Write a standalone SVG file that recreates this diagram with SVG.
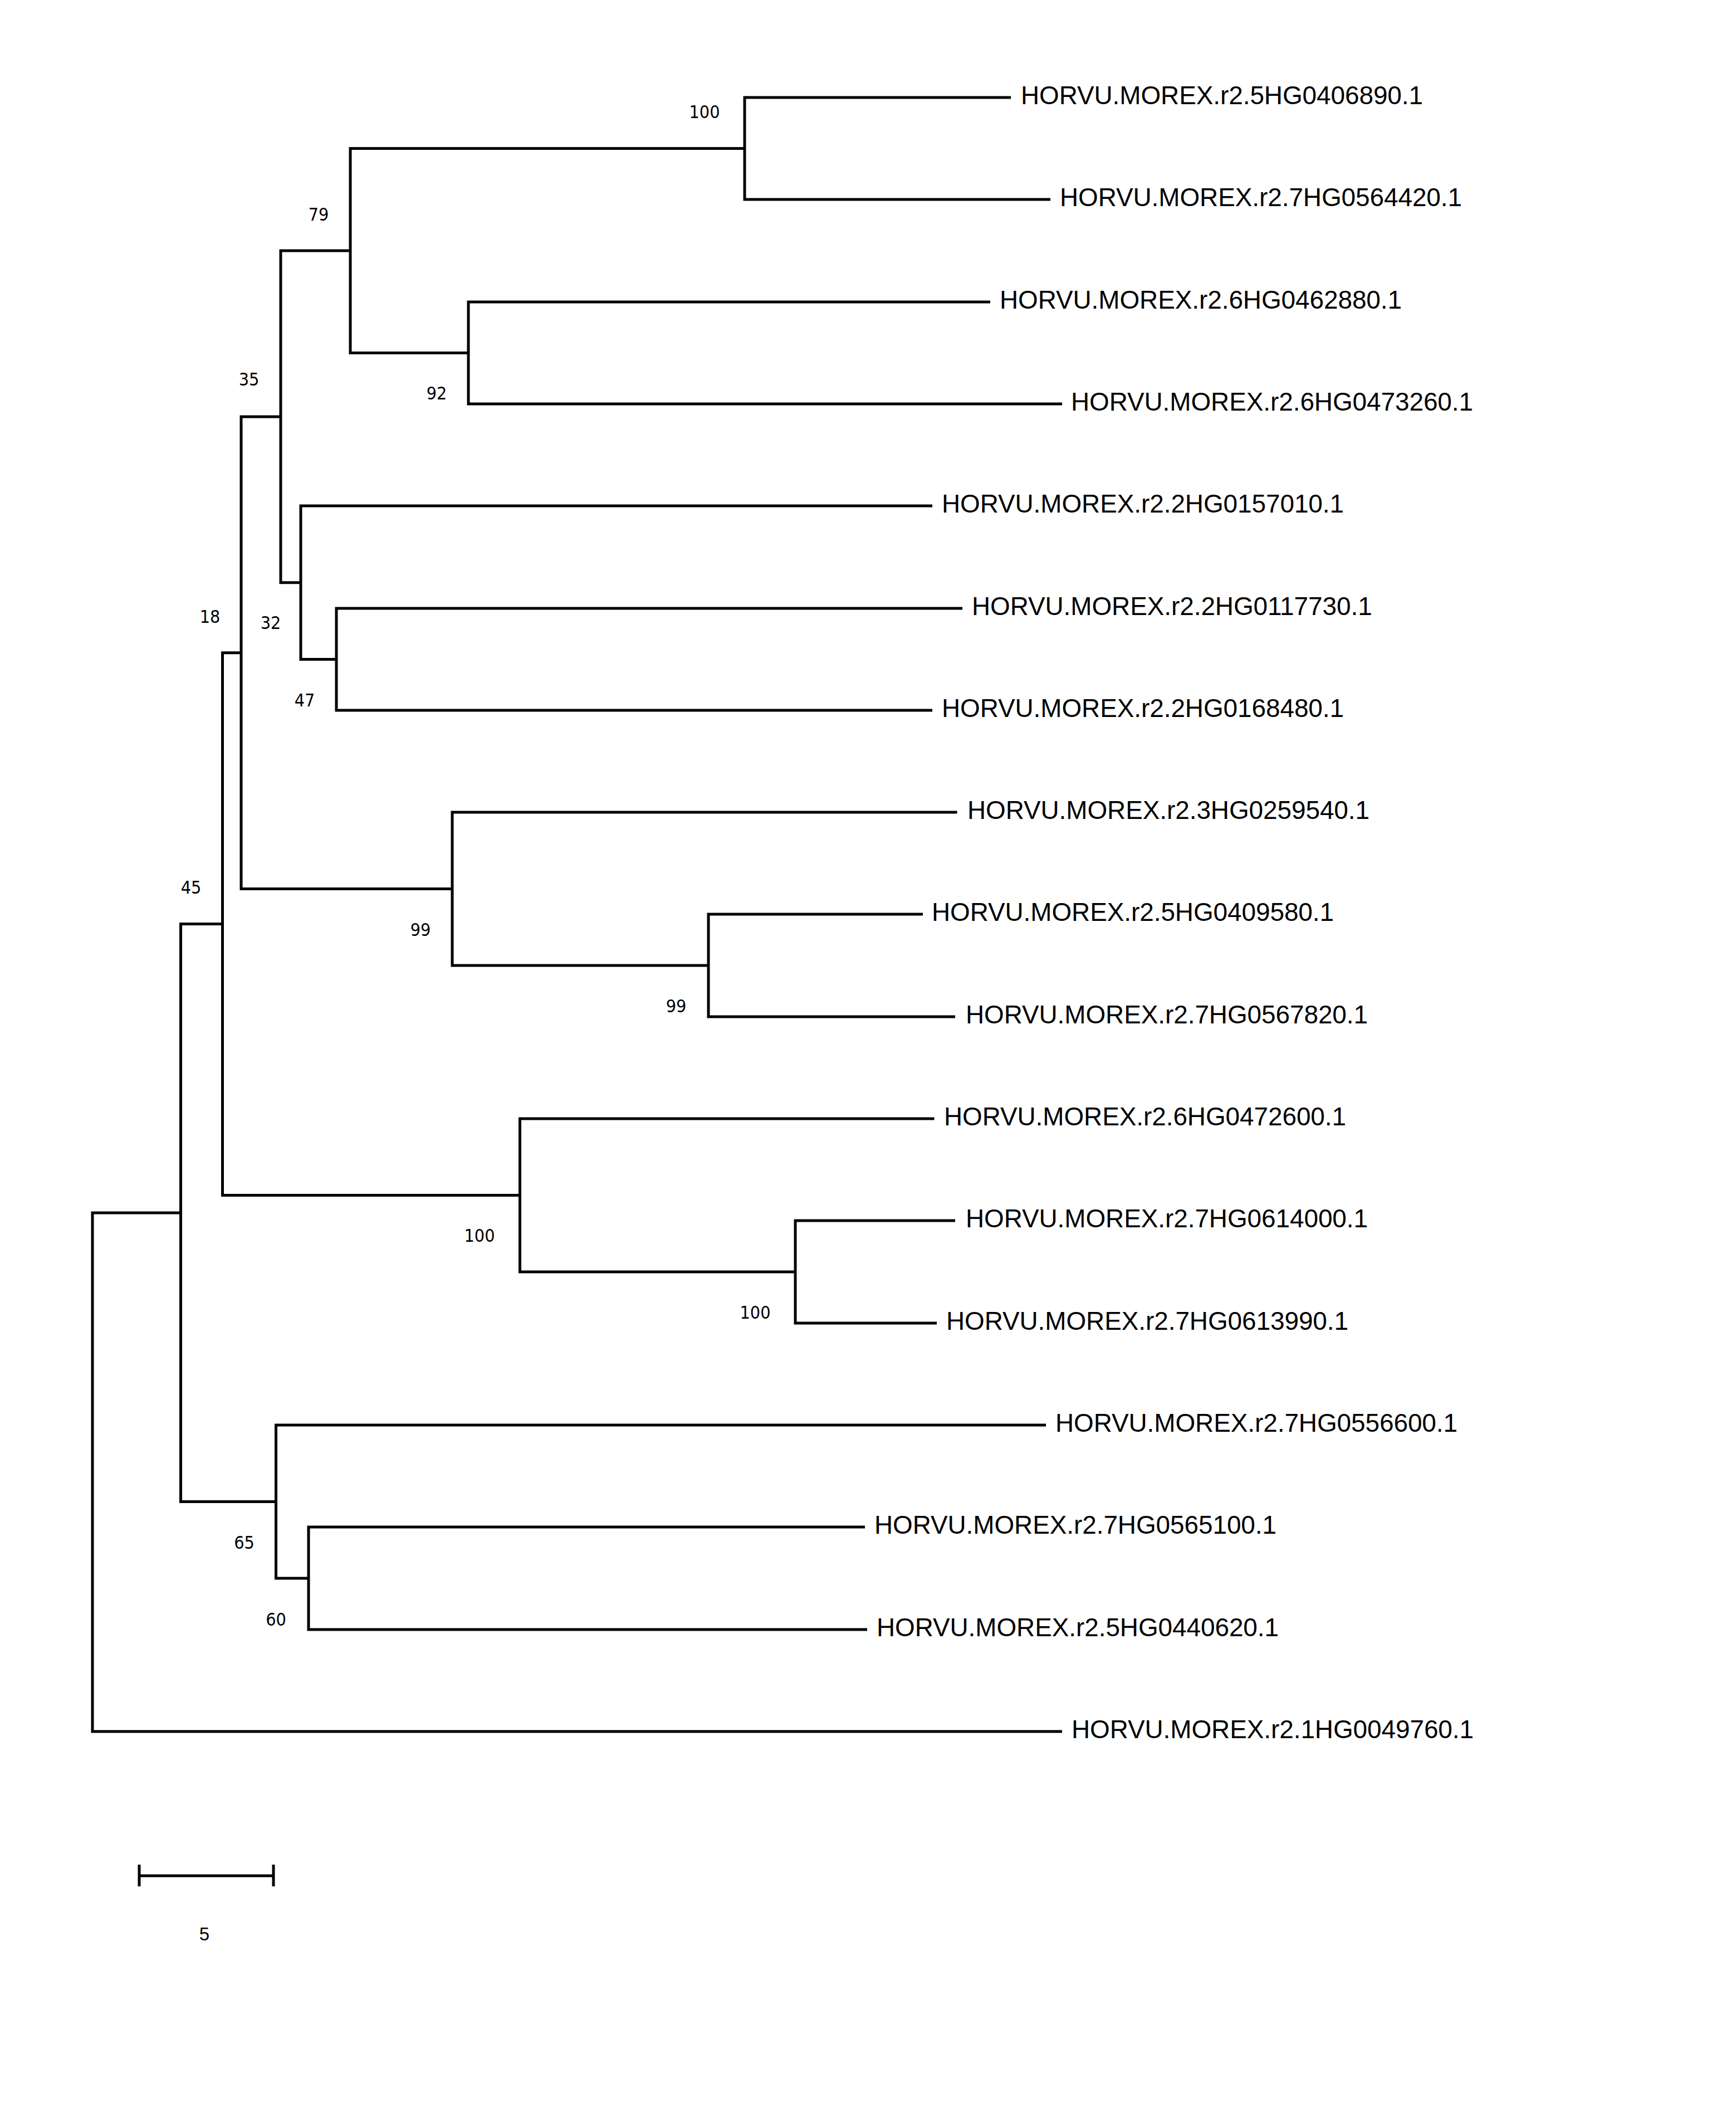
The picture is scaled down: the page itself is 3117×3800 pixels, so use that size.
<svg xmlns="http://www.w3.org/2000/svg" width="3117" height="3800" viewBox="0 0 3117 3800">
<style>
.br{fill:none;stroke:#000;stroke-width:5;stroke-linejoin:miter;stroke-linecap:butt}
.tip{font-family:"Liberation Sans",Arial,sans-serif;font-size:45.8px;fill:#000}
.bs{font-family:"DejaVu Sans","Liberation Sans",sans-serif;font-stretch:condensed;font-size:32px;fill:#000;text-anchor:middle}
.sc{font-family:"Liberation Sans",Arial,sans-serif;font-size:33px;fill:#000;text-anchor:middle}
</style>
<rect x="0" y="0" width="3117" height="3800" fill="#fff"/>
<g id="connectors">
<path class="br" d="M1815,175 H1337 V358 H1886"/>
<path class="br" d="M1778,542 H841 V725 H1907"/>
<path class="br" d="M1337,266.5 H629 V633.5 H841"/>
<path class="br" d="M1728,1092 H604 V1275 H1674"/>
<path class="br" d="M1674,908 H540 V1183.5 H604"/>
<path class="br" d="M629,450 H504 V1045.8 H540"/>
<path class="br" d="M1657,1641 H1272 V1825 H1715"/>
<path class="br" d="M1718.5,1458 H812 V1733 H1272"/>
<path class="br" d="M504,747.9 H433 V1595.5 H812"/>
<path class="br" d="M1715,2191 H1428 V2375 H1682"/>
<path class="br" d="M1677.5,2008 H933.5 V2283 H1428"/>
<path class="br" d="M433,1171.7 H399.5 V2145.5 H933.5"/>
<path class="br" d="M1553,2741 H554 V2925 H1557"/>
<path class="br" d="M1878,2558 H495.5 V2833 H554"/>
<path class="br" d="M399.5,1658.6 H324.5 V2695.5 H495.5"/>
<path class="br" d="M324.5,2177 H166 V3108 H1907"/>
</g>
<g id="tips">
<g id="t1"><text class="tip" x="1833" y="187">HORVU.MOREX.r2.5HG0406890.1</text></g>
<g id="t2"><text class="tip" x="1903" y="370">HORVU.MOREX.r2.7HG0564420.1</text></g>
<g id="t3"><text class="tip" x="1795" y="554">HORVU.MOREX.r2.6HG0462880.1</text></g>
<g id="t4"><text class="tip" x="1923" y="737">HORVU.MOREX.r2.6HG0473260.1</text></g>
<g id="t5"><text class="tip" x="1691" y="920">HORVU.MOREX.r2.2HG0157010.1</text></g>
<g id="t6"><text class="tip" x="1745" y="1104">HORVU.MOREX.r2.2HG0117730.1</text></g>
<g id="t7"><text class="tip" x="1691" y="1287">HORVU.MOREX.r2.2HG0168480.1</text></g>
<g id="t8"><text class="tip" x="1737" y="1470">HORVU.MOREX.r2.3HG0259540.1</text></g>
<g id="t9"><text class="tip" x="1673" y="1653">HORVU.MOREX.r2.5HG0409580.1</text></g>
<g id="t10"><text class="tip" x="1734" y="1837">HORVU.MOREX.r2.7HG0567820.1</text></g>
<g id="t11"><text class="tip" x="1695" y="2020">HORVU.MOREX.r2.6HG0472600.1</text></g>
<g id="t12"><text class="tip" x="1734" y="2203">HORVU.MOREX.r2.7HG0614000.1</text></g>
<g id="t13"><text class="tip" x="1699" y="2387">HORVU.MOREX.r2.7HG0613990.1</text></g>
<g id="t14"><text class="tip" x="1895" y="2570">HORVU.MOREX.r2.7HG0556600.1</text></g>
<g id="t15"><text class="tip" x="1570" y="2753">HORVU.MOREX.r2.7HG0565100.1</text></g>
<g id="t16"><text class="tip" x="1574" y="2937">HORVU.MOREX.r2.5HG0440620.1</text></g>
<g id="t17"><text class="tip" x="1924" y="3120">HORVU.MOREX.r2.1HG0049760.1</text></g>
</g>
<g id="inner-nodes">
<g id="n1"><text class="bs" x="1265" y="212">100</text></g>
<g id="n2"><text class="bs" x="572" y="396">79</text></g>
<g id="n3"><text class="bs" x="784" y="717">92</text></g>
<g id="n4"><text class="bs" x="447" y="692">35</text></g>
<g id="n5"><text class="bs" x="486" y="1129">32</text></g>
<g id="n6"><text class="bs" x="547" y="1268">47</text></g>
<g id="n7"><text class="bs" x="377" y="1118">18</text></g>
<g id="n8"><text class="bs" x="755" y="1680">99</text></g>
<g id="n9"><text class="bs" x="1214" y="1817">99</text></g>
<g id="n10"><text class="bs" x="343" y="1604">45</text></g>
<g id="n11"><text class="bs" x="861" y="2229">100</text></g>
<g id="n12"><text class="bs" x="1356" y="2367">100</text></g>
<g id="n13"><text class="bs" x="438.5" y="2780">65</text></g>
<g id="n14"><text class="bs" x="495.5" y="2918">60</text></g>
</g>
<g id="scale-bar">
<path class="br" d="M250,3367 H491 M250,3347 V3386 M491,3347 V3386"/>
<text class="sc" x="367" y="3483">5</text>
</g>
</svg>
